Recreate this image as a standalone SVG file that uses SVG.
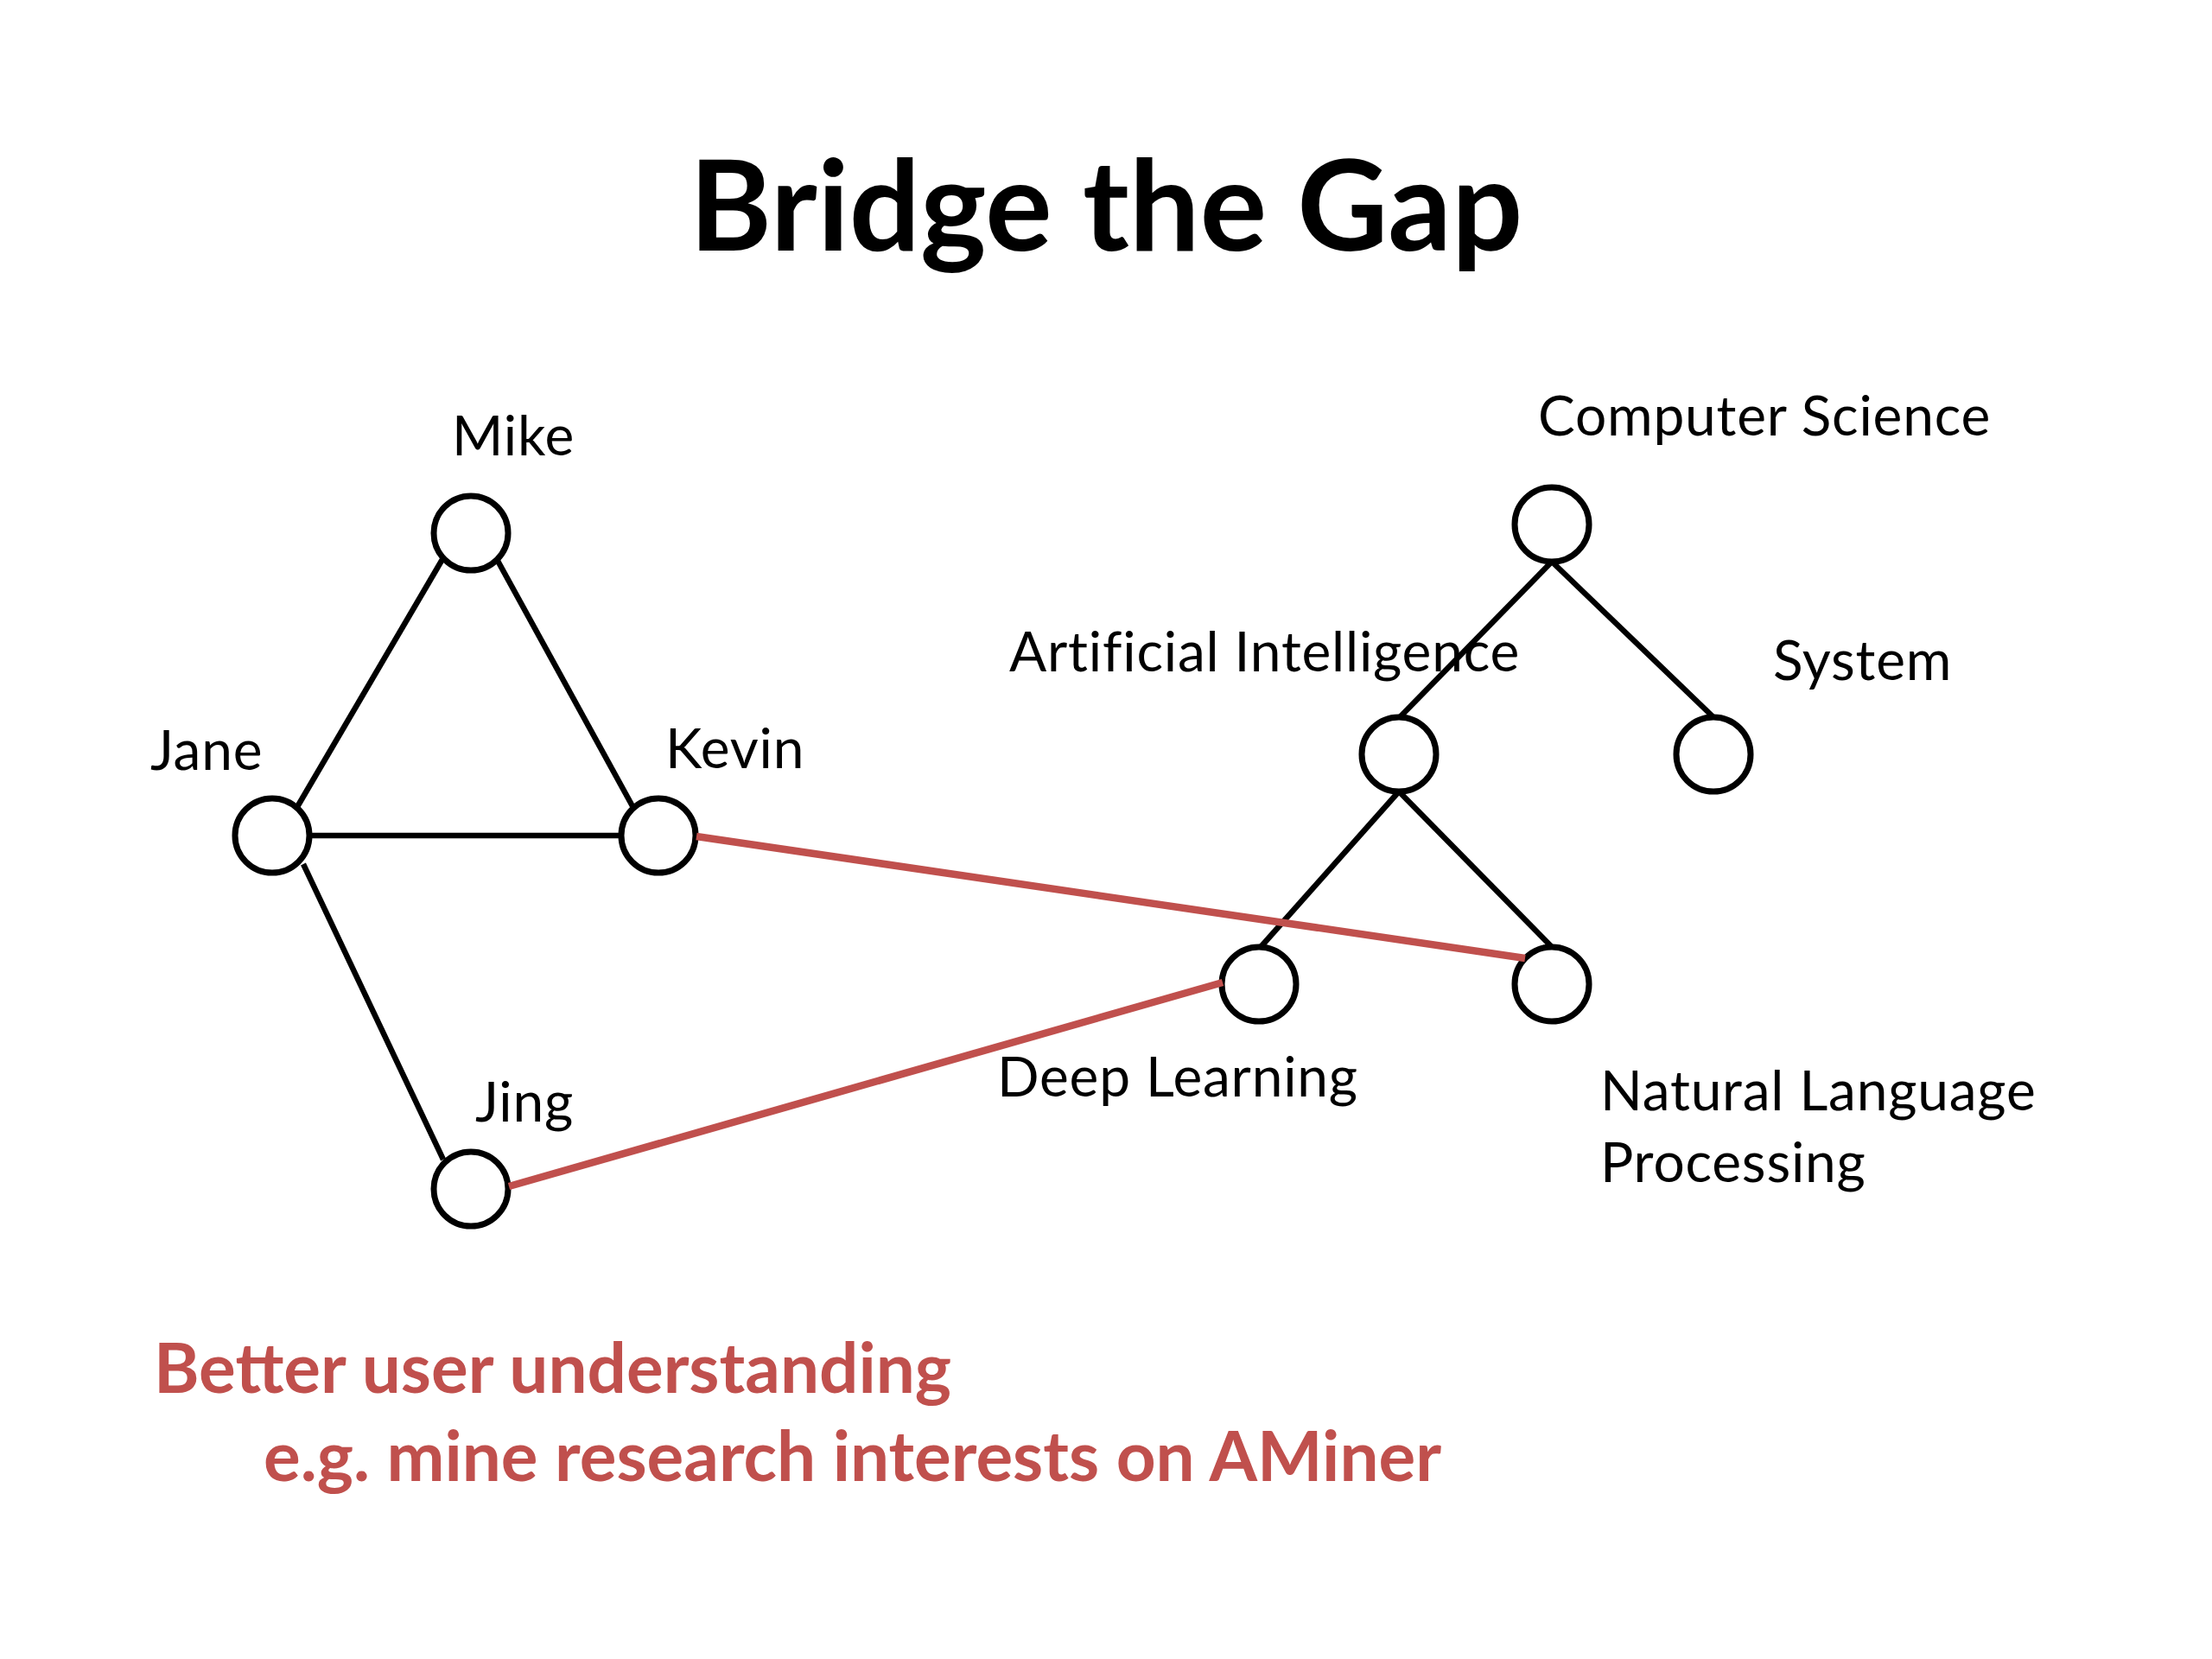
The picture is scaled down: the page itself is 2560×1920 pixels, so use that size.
<svg xmlns="http://www.w3.org/2000/svg" width="2560" height="1920" viewBox="0 0 2560 1920">
<style>
  .node { fill: #ffffff; stroke: #000000; stroke-width: 7; }
  .lbl { font-family: Lato, "Open Sans", "Liberation Sans", sans-serif; font-size: 64px; letter-spacing: 0.8px; fill: #000000; }
  .edge { stroke: #000000; stroke-width: 6.5; fill: none; }
  .bridge { stroke: #C0504D; stroke-width: 8.5; fill: none; }
  .title { font-family: Lato, "Open Sans", "Liberation Sans", sans-serif; font-weight: bold; font-size: 145px; fill: #000000; }
  .note { font-family: Lato, "Open Sans", "Liberation Sans", sans-serif; font-weight: bold; font-size: 80px; fill: #C0504D; }
</style>
<rect x="0" y="0" width="2560" height="1920" fill="#ffffff"/>
<text class="title" x="1280" y="290" text-anchor="middle">Bridge the Gap</text>

<g id="node-mike"><circle class="node" cx="545" cy="617" r="43"/><text class="lbl" x="523" y="527">Mike</text></g>
<g id="node-jane"><circle class="node" cx="315" cy="967" r="43"/><text class="lbl" x="174" y="891">Jane</text></g>
<g id="node-kevin"><circle class="node" cx="762" cy="967" r="43"/><text class="lbl" x="770" y="889">Kevin</text></g>
<g id="node-jing"><circle class="node" cx="545" cy="1376" r="43"/><text class="lbl" x="550" y="1298">Jing</text></g>
<g id="node-cs"><circle class="node" cx="1796" cy="607" r="43"/><text class="lbl" x="1780" y="504">Computer Science</text></g>
<g id="node-ai"><circle class="node" cx="1619" cy="873" r="43"/><text class="lbl" x="1168" y="777">Artificial Intelligence</text></g>
<g id="node-system"><circle class="node" cx="1983" cy="873" r="43"/><text class="lbl" x="2052" y="787">System</text></g>
<g id="node-dl"><circle class="node" cx="1457" cy="1139" r="43"/><text class="lbl" x="1154" y="1269">Deep Learning</text></g>
<g id="node-nlp"><circle class="node" cx="1796" cy="1139" r="43"/><text class="lbl" x="1852" y="1285">Natural Language</text><text class="lbl" x="1852" y="1368">Processing</text></g>

<g id="connectors">
  <line class="edge" x1="344.5" y1="933" x2="511.6" y2="648"/>
  <line class="edge" x1="576" y1="649" x2="732" y2="933"/>
  <line class="edge" x1="358" y1="967" x2="719" y2="967"/>
  <line class="edge" x1="351" y1="1000" x2="513" y2="1342"/>
  <line class="edge" x1="1796" y1="650" x2="1620" y2="830"/>
  <line class="edge" x1="1796" y1="650" x2="1983" y2="830"/>
  <line class="edge" x1="1619" y1="916" x2="1459" y2="1096"/>
  <line class="edge" x1="1619" y1="916" x2="1796" y2="1096"/>
  <line class="bridge" x1="806" y1="968" x2="1765" y2="1109"/>
  <line class="bridge" x1="589" y1="1373" x2="1415" y2="1137"/>
</g>

<text class="note" x="178" y="1612">Better user understanding</text>
<text class="note" x="305" y="1714">e.g. mine research interests on AMiner</text>
</svg>
